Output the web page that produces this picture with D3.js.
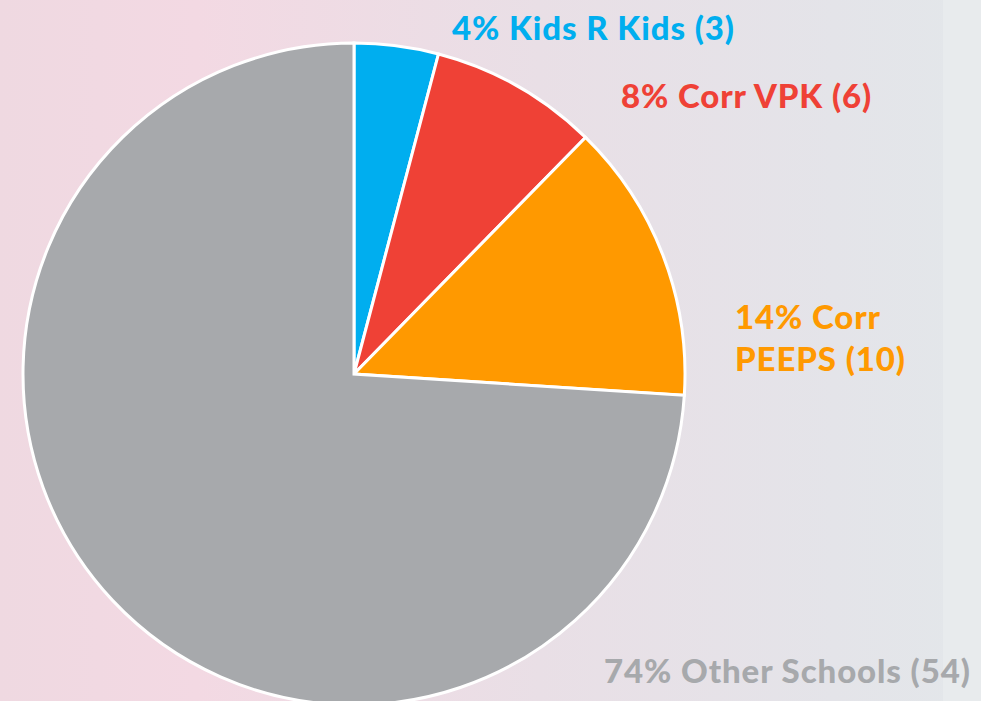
<!DOCTYPE html>
<html>
<head>
<meta charset="utf-8">
<script src="https://cdn.jsdelivr.net/npm/d3@7"></script>
<style>
    html, body { margin: 0; padding: 0; }
    body { width: 981px; height: 701px; overflow: hidden; }
</style>
</head>
<body>
<div id="chart"></div>
<script>
(function() {
    // Chart data
    var categories = ["Kids R Kids", "Corr VPK", "Corr PEEPS", "Other Schools"];
    var counts = [3, 6, 10, 54];
    var colors = ["#00aeef", "#ef4136", "#ff9900", "#a7a9ac"];
    // label lines, one array per slice
    var labelLines = [
        ["4% Kids R Kids (3)"],
        ["8% Corr VPK (6)"],
        ["14% Corr", "PEEPS (10)"],
        ["74% Other Schools (54)"]
    ];

    var width = 981, height = 701;
    var cx = 354, cy = 374, radius = 331;

    // where each label starts (left edge, first baseline)
    var labelAt = [[452, 40], [621, 108], [735, 329], [604, 683]];

    var svg = d3.select("#chart").append("svg")
        .attr("width", width)
        .attr("height", height);

    // Background gradient, pink on the left fading to pale grey
    var defs = svg.append("defs");
    var grad = defs.append("linearGradient")
        .attr("id", "bg")
        .attr("x1", "0%").attr("x2", "100%")
        .attr("y1", "0%").attr("y2", "0%");
    grad.append("stop").attr("offset", "0%").attr("stop-color", "#efd9e1");
    grad.append("stop").attr("offset", "20%").attr("stop-color", "#f3d9e3");
    grad.append("stop").attr("offset", "55%").attr("stop-color", "#e9dfe6");
    grad.append("stop").attr("offset", "85%").attr("stop-color", "#e4e4e9");
    grad.append("stop").attr("offset", "100%").attr("stop-color", "#e3e7ea");

    svg.append("rect")
        .attr("width", width)
        .attr("height", height)
        .attr("fill", "url(#bg)");
    svg.append("rect")
        .attr("x", 943)
        .attr("width", width - 943)
        .attr("height", height)
        .attr("fill", "#e8ebed");

    var pie = d3.pie()
        .sort(null)
        .value(function(d) { return d; });

    var arc = d3.arc()
        .innerRadius(0)
        .outerRadius(radius);

    var g = svg.append("g")
        .attr("transform", "translate(" + cx + "," + cy + ")");

    g.selectAll("path.slice")
        .data(pie(counts))
        .enter().append("path")
        .attr("class", "slice")
        .attr("d", arc)
        .attr("fill", function(d, i) { return colors[i]; })
        .attr("stroke", "#ffffff")
        .attr("stroke-width", 3)
        .attr("stroke-linejoin", "miter");

    // Labels
    var labels = svg.selectAll("text.label")
        .data(categories)
        .enter().append("text")
        .attr("class", "label")
        .attr("x", function(d, i) { return labelAt[i][0]; })
        .attr("y", function(d, i) { return labelAt[i][1]; })
        .attr("fill", function(d, i) { return colors[i]; })
        .style("font-family", "Lato, 'DejaVu Sans', sans-serif")
        .style("font-weight", 900)
        .style("font-size", "33px")
        .style("letter-spacing", "0.9px");

    labels.each(function(d, i) {
        var t = d3.select(this);
        labelLines[i].forEach(function(line, j) {
            t.append("tspan")
                .attr("x", labelAt[i][0])
                .attr("dy", j === 0 ? 0 : 42)
                .text(line);
        });
    });
})();
</script>
</body>
</html>
